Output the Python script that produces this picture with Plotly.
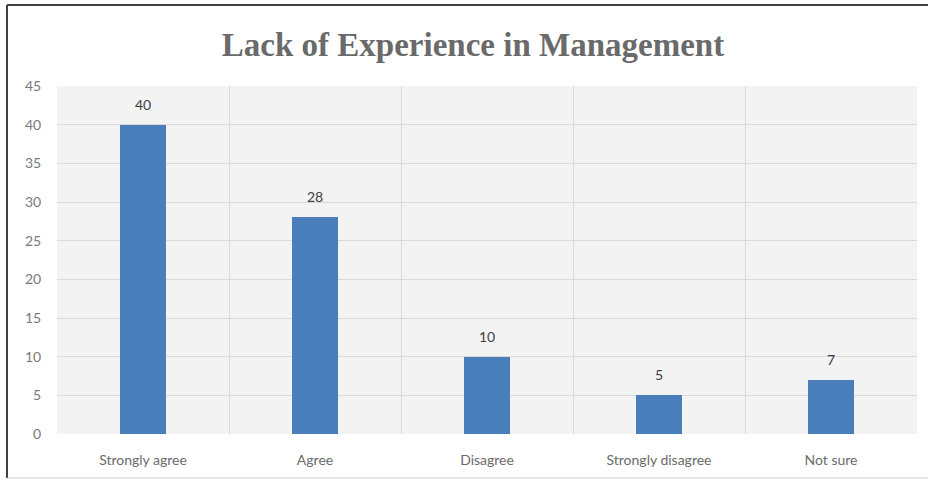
import plotly.graph_objects as go

categories = ["Strongly agree", "Agree", "Disagree", "Strongly disagree", "Not sure"]
responses = [40, 28, 10, 5, 7]
y_ticks = [0, 5, 10, 15, 20, 25, 30, 35, 40, 45]

positions = list(range(len(categories)))

fig = go.Figure(
    go.Bar(
        x=positions,
        y=responses,
        width=0.27,
        marker=dict(color="#4a7ebb", line=dict(width=0)),
        hoverinfo="x+y",
    )
)

# Value labels above each bar
for p, v in zip(positions, responses):
    fig.add_annotation(
        x=p, y=v, text=str(v), showarrow=False,
        yanchor="bottom", yshift=10,
        font=dict(family="Lato, sans-serif", size=14, color="#404040"),
    )

grid = "#d9d9d9"
boundaries = [p - 0.5 for p in positions] + [positions[-1] + 0.5]

fig.update_layout(
    width=928,
    height=481,
    margin=dict(l=57, r=11, t=86, b=47),
    paper_bgcolor="white",
    plot_bgcolor="#f3f3f3",
    showlegend=False,
    bargap=0,
    title=dict(
        text="<b>Lack of Experience in Management</b>",
        xref="container",
        x=473 / 928,
        xanchor="center",
        y=1 - 44 / 481,
        yanchor="middle",
        font=dict(family="Liberation Serif, serif", size=33, color="#6a6a6a"),
    ),
    xaxis=dict(
        range=[-0.5, len(categories) - 0.5],
        tickvals=positions,
        ticktext=categories,
        showgrid=False,
        zeroline=False,
        showline=False,
        ticks="outside",
        ticklen=13,
        tickcolor="rgba(0,0,0,0)",
        tickfont=dict(family="Lato, sans-serif", size=14, color="#6b6b6b"),
        minor=dict(tickvals=boundaries, showgrid=True, gridcolor=grid, gridwidth=1, ticks=""),
    ),
    yaxis=dict(
        range=[0, 45],
        tickvals=y_ticks,
        showgrid=True,
        gridcolor=grid,
        gridwidth=1,
        zeroline=False,
        showline=False,
        ticks="outside",
        ticklen=12,
        tickcolor="rgba(0,0,0,0)",
        tickfont=dict(family="Lato, sans-serif", size=14, color="#7a7a7a"),
    ),
)

# Chart frame: dark top and left edges, light bottom edge
top = 1 + 81 / 348
bottom = -44 / 348
left = -50 / 860
right = 1 + 11 / 860
fig.add_shape(type="line", xref="paper", yref="paper",
              x0=left, x1=right, y0=top, y1=top,
              line=dict(color="#404040", width=2))
fig.add_shape(type="line", xref="paper", yref="paper",
              x0=left, x1=left, y0=top, y1=bottom,
              line=dict(color="#404040", width=2))
fig.add_shape(type="line", xref="paper", yref="paper",
              x0=left, x1=right, y0=bottom, y1=bottom,
              line=dict(color="#d0d0d0", width=1))

fig.write_html("out.html")
